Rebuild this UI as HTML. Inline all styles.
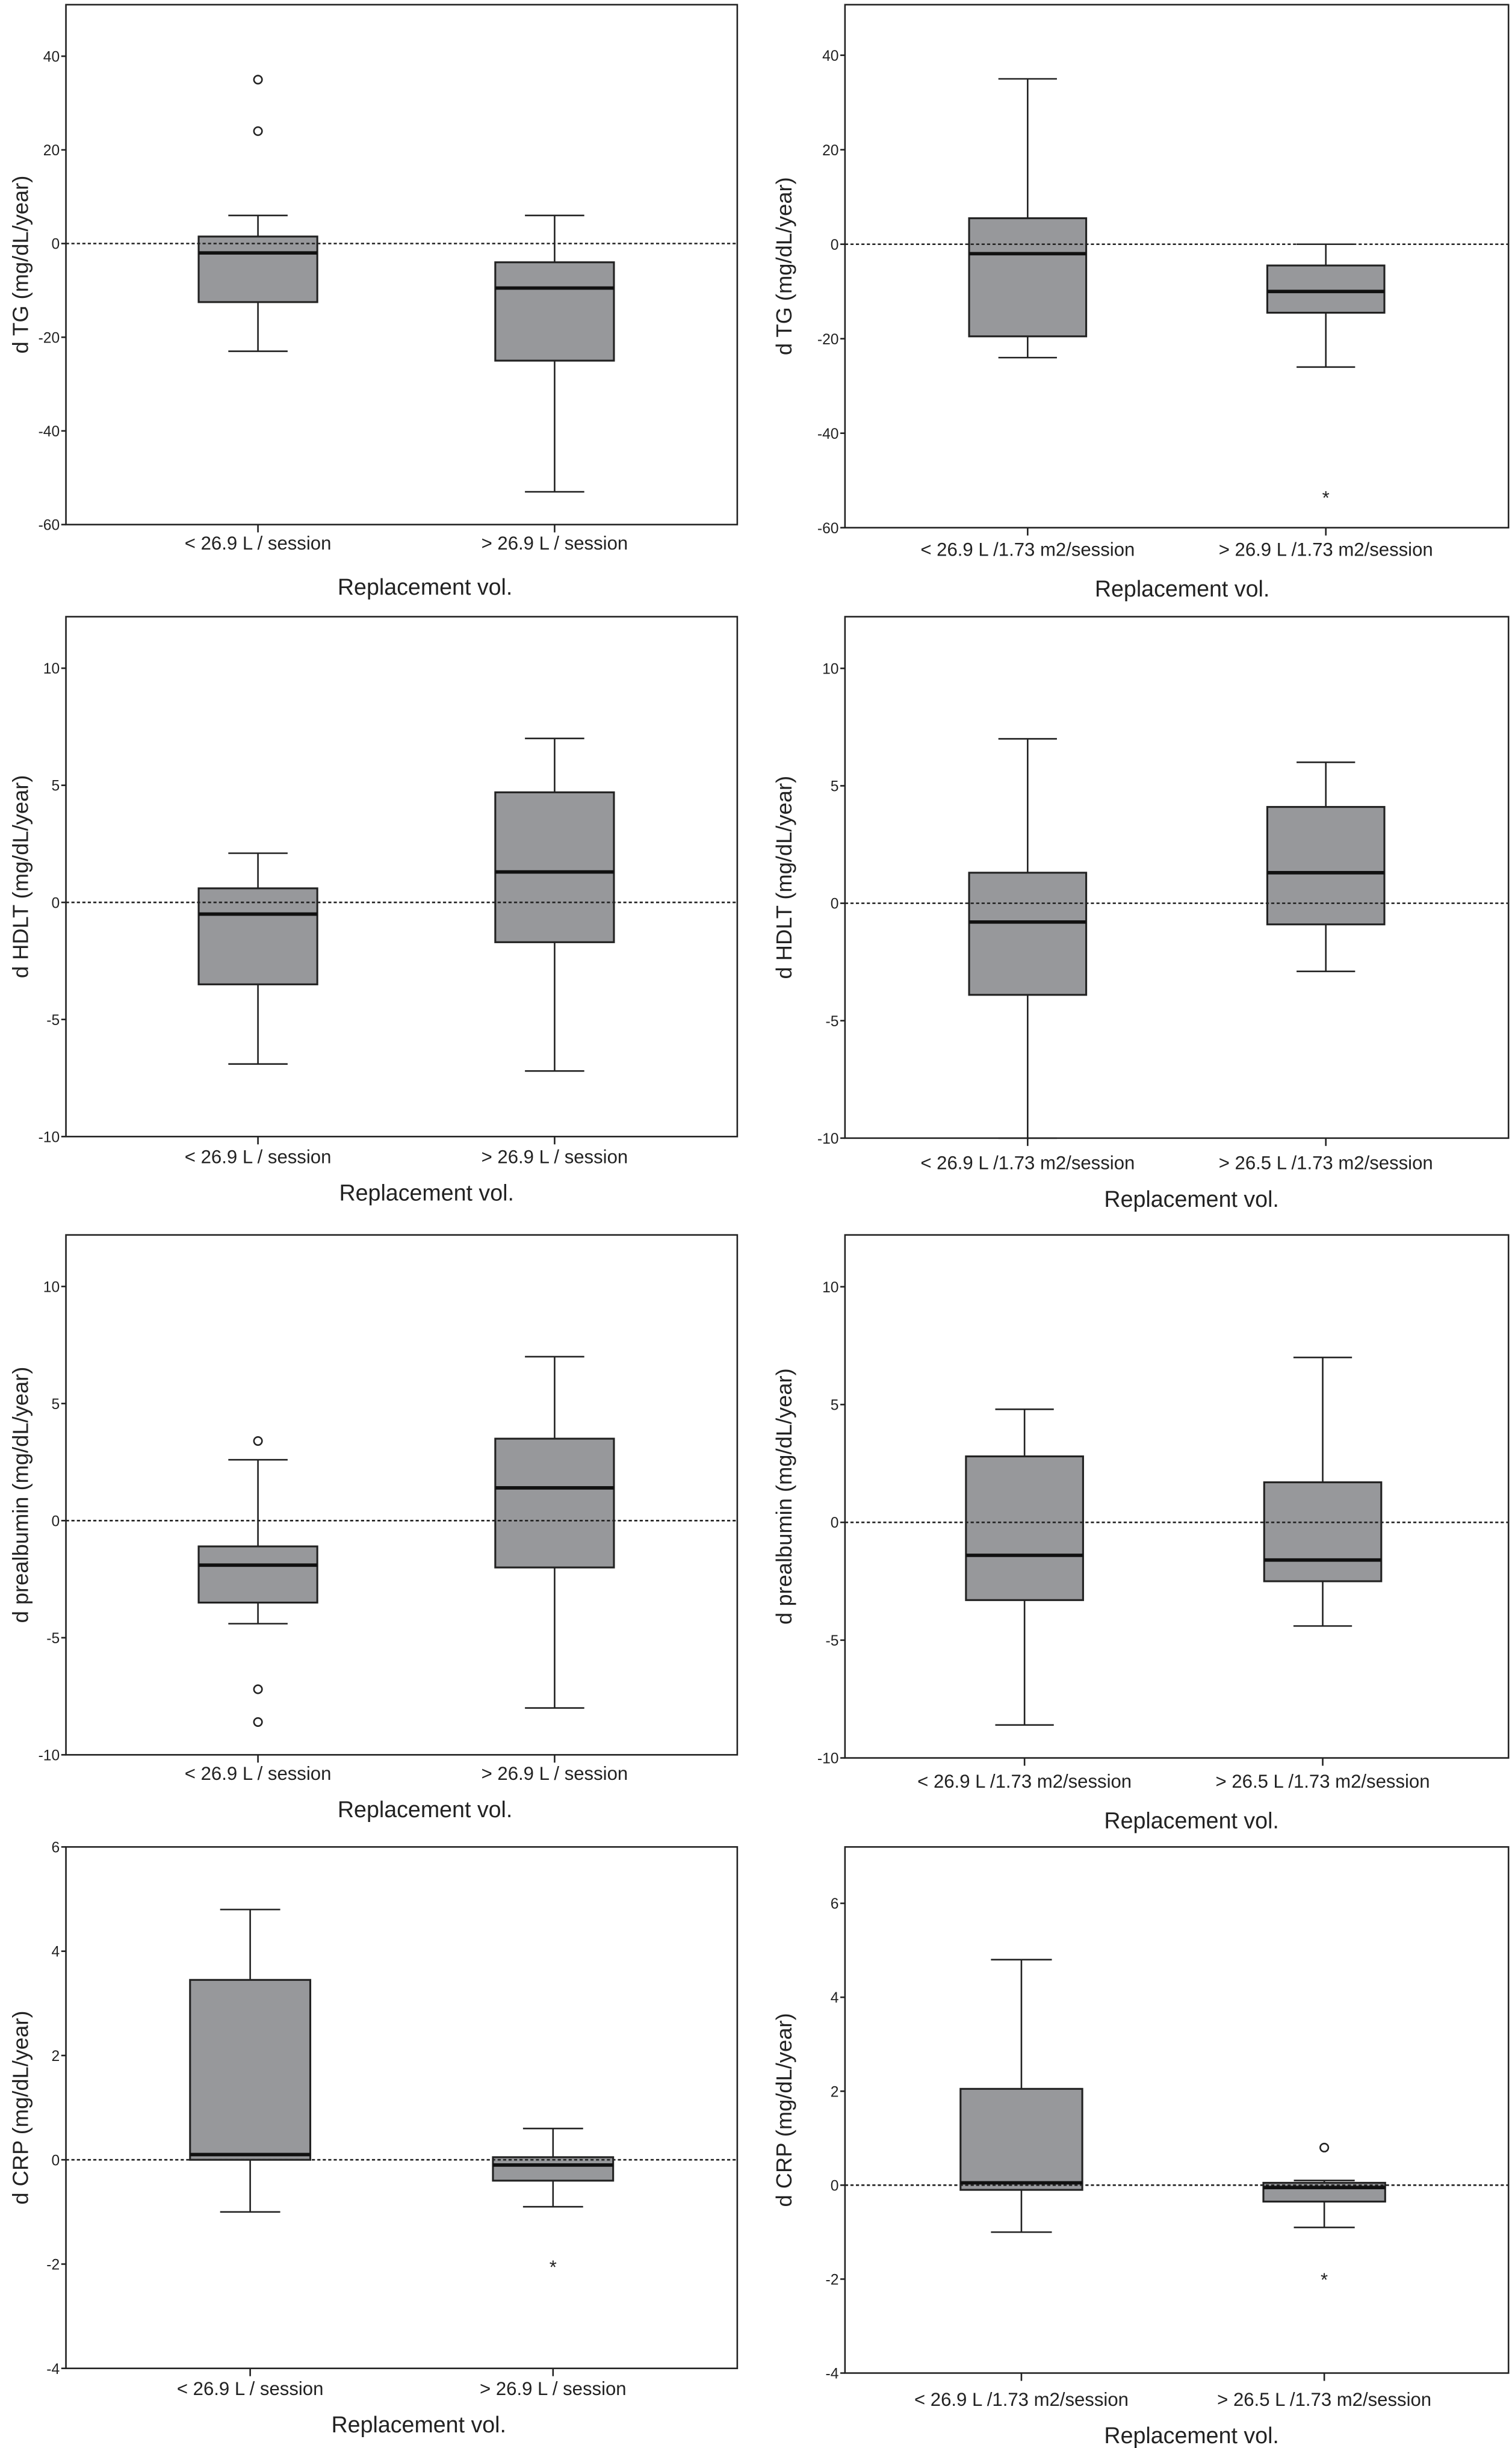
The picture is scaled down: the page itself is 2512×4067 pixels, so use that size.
<!DOCTYPE html>
<html><head><meta charset="utf-8"><style>
html,body{margin:0;padding:0;background:#fff;}
svg{display:block;}
text{font-family:"Liberation Sans",sans-serif;fill:#222;}
</style></head><body>
<svg id="fig" width="2512" height="4067" viewBox="0 0 968 1568" xmlns="http://www.w3.org/2000/svg"></svg>
<script>
// ---- data (top level) ----
const yTitles = ["d TG (mg/dL/year)","d TG (mg/dL/year)","d HDLT (mg/dL/year)","d HDLT (mg/dL/year)","d prealbumin (mg/dL/year)","d prealbumin (mg/dL/year)","d CRP (mg/dL/year)","d CRP (mg/dL/year)"];
const catsLeft = ["< 26.9 L / session","> 26.9 L / session"];
const catsTG2 = ["< 26.9 L /1.73 m2/session","> 26.9 L /1.73 m2/session"];
const catsRight = ["< 26.9 L /1.73 m2/session","> 26.5 L /1.73 m2/session"];
const tickTG = [40,20,0,-20,-40,-60];
const tickHD = [10,5,0,-5,-10];
const tickCRP = [6,4,2,0,-2,-4];
// per panel, per category: [whiskerLow, q1, median, q3, whiskerHigh]
const boxTG1 = [[-23,-12.5,-2,1.5,6],[-53,-25,-9.5,-4,6]];
const boxTG2 = [[-24,-19.5,-2,5.5,35],[-26,-14.5,-10,-4.5,0]];
const boxHD1 = [[-6.9,-3.5,-0.5,0.6,2.1],[-7.2,-1.7,1.3,4.7,7]];
const boxHD2 = [[-10,-3.9,-0.8,1.3,7],[-2.9,-0.9,1.3,4.1,6]];
const boxPA1 = [[-4.4,-3.5,-1.9,-1.1,2.6],[-8,-2,1.4,3.5,7]];
const boxPA2 = [[-8.6,-3.3,-1.4,2.8,4.8],[-4.4,-2.5,-1.6,1.7,7]];
const boxCR1 = [[-1,0,0.1,3.45,4.8],[-0.9,-0.4,-0.1,0.05,0.6]];
const boxCR2 = [[-1,-0.1,0.05,2.05,4.8],[-0.9,-0.35,-0.05,0.05,0.1]];
// outliers: [categoryIndex, value]
const circTG1 = [[0,35],[0,24]];
const starTG2 = [[1,-53]];
const circPA1 = [[0,3.4],[0,-7.2],[0,-8.6]];
const starCR1 = [[1,-2]];
const circCR2 = [[1,0.8]];
const starCR2 = [[1,-1.95]];

// ---- layout (not data) ----
const panels = [
 {x0:42,x1:472,yTop:3,yBot:336,vTop:51,vBot:-60,ticks:tickTG,cats:catsLeft,cx:[165,355],bw:76,box:boxTG1,circ:circTG1,star:[],labY:352,titX:272,titY:381,ytX:14},
 {x0:541,x1:966,yTop:3,yBot:338,vTop:50.7,vBot:-60,ticks:tickTG,cats:catsTG2,cx:[658,849],bw:75,box:boxTG2,circ:[],star:starTG2,labY:356,titX:757,titY:382,ytX:503},
 {x0:42,x1:472,yTop:395,yBot:728,vTop:12.2,vBot:-10,ticks:tickHD,cats:catsLeft,cx:[165,355],bw:76,box:boxHD1,circ:[],star:[],labY:745,titX:273,titY:769,ytX:14},
 {x0:541,x1:966,yTop:395,yBot:729,vTop:12.2,vBot:-10,ticks:tickHD,cats:catsRight,cx:[658,849],bw:75,box:boxHD2,circ:[],star:[],labY:749,titX:763,titY:773,ytX:503},
 {x0:42,x1:472,yTop:791,yBot:1124,vTop:12.2,vBot:-10,ticks:tickHD,cats:catsLeft,cx:[165,355],bw:76,box:boxPA1,circ:circPA1,star:[],labY:1140,titX:272,titY:1164,ytX:14},
 {x0:541,x1:966,yTop:791,yBot:1126,vTop:12.2,vBot:-10,ticks:tickHD,cats:catsRight,cx:[656,847],bw:75,box:boxPA2,circ:[],star:[],labY:1145,titX:763,titY:1171,ytX:503},
 {x0:42,x1:472,yTop:1183,yBot:1517,vTop:6,vBot:-4,ticks:tickCRP,cats:catsLeft,cx:[160,354],bw:77,box:boxCR1,circ:[],star:starCR1,labY:1534,titX:268,titY:1558,ytX:14},
 {x0:541,x1:966,yTop:1183,yBot:1520,vTop:7.2,vBot:-4,ticks:tickCRP,cats:catsRight,cx:[654,848],bw:78,box:boxCR2,circ:circCR2,star:starCR2,labY:1541,titX:763,titY:1565,ytX:503}
];
const svg = document.getElementById('fig');
const NS = 'http://www.w3.org/2000/svg';
function mk(tag, attrs, parent){const e=document.createElementNS(NS,tag);for(const k in attrs)e.setAttribute(k,attrs[k]);parent.appendChild(e);return e;}

panels.forEach((p,pi)=>{
  const g = mk('g',{},svg);
  
  
  const y = v => p.yBot - (v - p.vBot) * (p.yBot - p.yTop) / (p.vTop - p.vBot);
  const fr = mk('rect',{x:p.x0,y:p.yTop,width:p.x1-p.x0,height:p.yBot-p.yTop,fill:'none',stroke:'#222','stroke-width':1},g);
  
  
  p.ticks.forEach(t=>{
    const yy=y(t);
    const tl=mk('line',{x1:p.x0-3,x2:p.x0,y1:yy,y2:yy,stroke:'#222','stroke-width':1},g);
    
    
    const tx=mk('text',{x:p.x0-4,y:yy+3.5,'font-size':9.5,'text-anchor':'end'},g);
    tx.textContent=t;
    
    
  });
  p.cats.forEach((c,ci)=>{
    const cx=p.cx[ci], h=p.bw/2, b=p.box[ci];
    const xt=mk('line',{x1:cx,x2:cx,y1:p.yBot,y2:p.yBot+5,stroke:'#222','stroke-width':1},g);
    
    
    const lab=mk('text',{x:cx,y:p.labY,'font-size':12,'text-anchor':'middle'},g);
    lab.textContent=c;
    
    
    const wg=mk('g',{stroke:'#222','stroke-width':1},g);
    
    
    mk('line',{x1:cx,x2:cx,y1:y(b[4]),y2:y(b[3])},wg);
    mk('line',{x1:cx,x2:cx,y1:y(b[1]),y2:y(b[0])},wg);
    mk('line',{x1:cx-h*0.5,x2:cx+h*0.5,y1:y(b[4]),y2:y(b[4])},wg);
    mk('line',{x1:cx-h*0.5,x2:cx+h*0.5,y1:y(b[0]),y2:y(b[0])},wg);
    const r=mk('rect',{x:cx-h,y:y(b[3]),width:p.bw,height:y(b[1])-y(b[3]),fill:'#97989b',stroke:'#222','stroke-width':1.2},g);
    
    
    const m=mk('line',{x1:cx-h,x2:cx+h,y1:y(b[2]),y2:y(b[2]),stroke:'#111','stroke-width':2.2},g);
    
    
  });
  const z=mk('line',{x1:p.x0,x2:p.x1,y1:y(0),y2:y(0),stroke:'#222','stroke-width':1,'stroke-dasharray':'2,1.5'},g);
  
  
  p.circ.forEach(o=>{
    const c=mk('circle',{cx:p.cx[o[0]],cy:y(o[1]),r:2.6,fill:'#fff',stroke:'#222','stroke-width':1},g);
    
    
  });
  p.star.forEach(o=>{
    const s=mk('text',{x:p.cx[o[0]],y:y(o[1])+6,'font-size':12,'text-anchor':'middle'},g);
    s.textContent='*';
    
    
  });
  const cy=(p.yTop+p.yBot)/2;
  const yt=mk('text',{x:p.ytX,y:cy,'font-size':14,'text-anchor':'middle',transform:'rotate(-90 '+p.ytX+' '+cy+')','dominant-baseline':'middle'},g);
  yt.textContent=yTitles[pi];
  
  
  const xt=mk('text',{x:p.titX,y:p.titY,'font-size':14.5,'text-anchor':'middle'},g);
  xt.textContent='Replacement vol.';
  
  
});
</script>
</body></html>
